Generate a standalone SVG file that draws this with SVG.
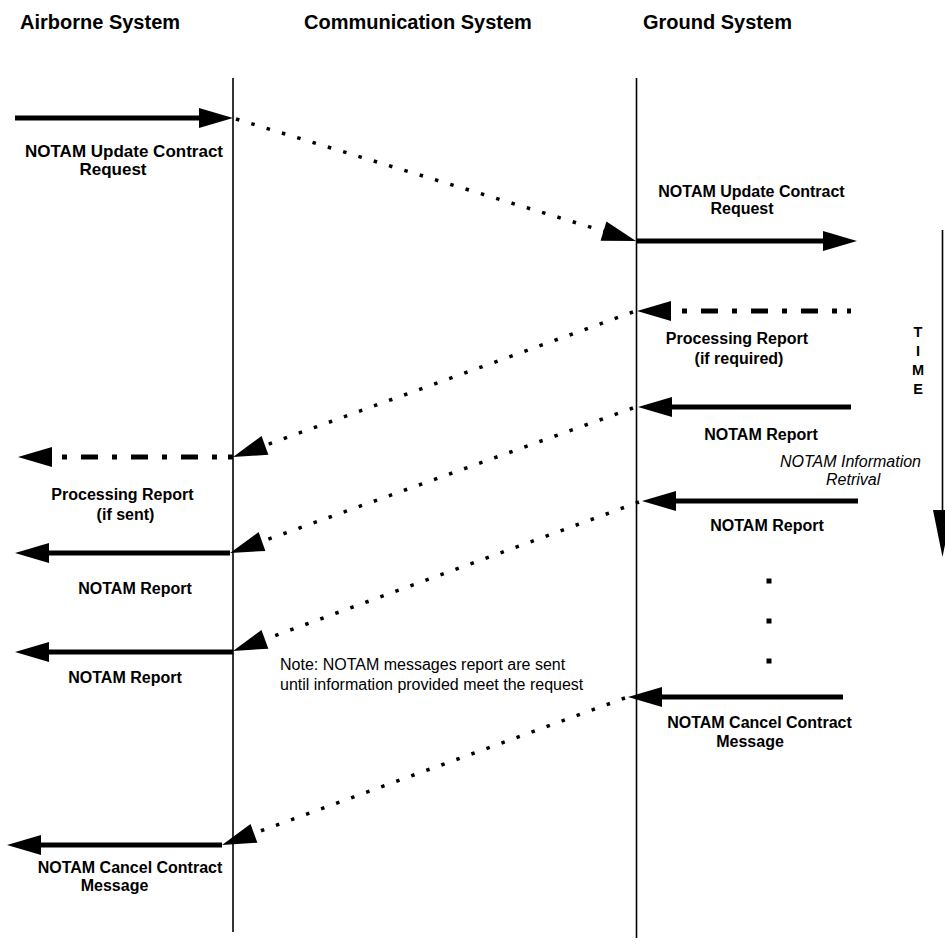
<svg xmlns="http://www.w3.org/2000/svg" xmlns:xlink="http://www.w3.org/1999/xlink" width="945" height="944" viewBox="0 0 945 944">
<style>
  text { font-family: "Liberation Sans", Arial, sans-serif; fill: #000; }
  .hdr { font-size: 20px; font-weight: bold; }
  .lbl { font-size: 16px; font-weight: bold; text-anchor: middle; }
  .tm { font-size: 14.5px; font-weight: bold; text-anchor: middle; }
  .it { font-size: 16px; font-style: italic; }
  .note { font-size: 16px; }
  .life { stroke: #000; stroke-width: 1.6; fill: none; }
  .solid { stroke: #000; stroke-width: 5; fill: none; }
  .dotted { stroke: #000; stroke-width: 3.5; stroke-dasharray: 3.5 12.5; fill: none; }
  .dashdot { stroke: #000; stroke-width: 5; stroke-dasharray: 5 14 17 14; fill: none; }
</style>
<defs>
  <polygon id="head" points="0,0 -34,-10 -34,10" fill="#000"/>
</defs>
<rect width="945" height="944" fill="#fff"/>

<g id="headers">
  <text class="hdr" x="20" y="29">Airborne System</text>
  <text class="hdr" x="304" y="29">Communication System</text>
  <text class="hdr" x="643" y="29">Ground System</text>
</g>

<g id="lifelines">
  <line class="life" x1="233" y1="78" x2="233" y2="932"/>
  <line class="life" x1="636.5" y1="78" x2="636.5" y2="938"/>
</g>

<g id="time">
  <line class="life" x1="942.5" y1="230" x2="942.5" y2="515"/>
  <polygon points="933,510 952,510 942.5,557" fill="#000"/>
  <text class="tm" x="918" y="337">T</text>
  <text class="tm" x="918" y="356">I</text>
  <text class="tm" x="918" y="375">M</text>
  <text class="tm" x="918" y="394">E</text>
</g>

<g id="connectors">
  <path class="solid" d="M15,118 H213"/>
  <use xlink:href="#head" transform="translate(233,118)"/>
  <path class="dotted" d="M236,119 L612,233.7"/>
  <use xlink:href="#head" transform="translate(636,241) rotate(16.97)"/>
  <path class="solid" d="M636,241 H837"/>
  <use xlink:href="#head" transform="translate(857,241)"/>
  <path class="dashdot" d="M837,311 H679"/>
  <path class="solid" d="M847,311 H851"/>
  <use xlink:href="#head" transform="translate(637,311) rotate(180)"/>
  <path class="dotted" d="M633,312 L256.5,448.5"/>
  <use xlink:href="#head" transform="translate(233,457) rotate(160.09)"/>
  <path class="solid" d="M851,407 H658"/>
  <use xlink:href="#head" transform="translate(638,407) rotate(180)"/>
  <path class="dotted" d="M633,408 L253.5,544.5"/>
  <use xlink:href="#head" transform="translate(230,553) rotate(160.22)"/>
  <path class="solid" d="M858,501 H662"/>
  <use xlink:href="#head" transform="translate(642,501) rotate(180)"/>
  <path class="dotted" d="M639,502 L256.5,642.4"/>
  <use xlink:href="#head" transform="translate(233,651) rotate(159.86)"/>
  <path class="solid" d="M843,697 H648"/>
  <use xlink:href="#head" transform="translate(628,697) rotate(180)"/>
  <path class="dotted" d="M625,698 L245.5,836.4"/>
  <use xlink:href="#head" transform="translate(222,845) rotate(159.97)"/>
  <path class="dashdot" d="M62,457 H217"/>
  <path class="solid" d="M228,457 H233"/>
  <use xlink:href="#head" transform="translate(18,457) rotate(180)"/>
  <path class="solid" d="M230,553 H35"/>
  <use xlink:href="#head" transform="translate(15,553) rotate(180)"/>
  <path class="solid" d="M233,652 H35"/>
  <use xlink:href="#head" transform="translate(15,652) rotate(180)"/>
  <path class="solid" d="M222,845 H27"/>
  <use xlink:href="#head" transform="translate(7,845) rotate(180)"/>
  <rect x="766.5" y="578.5" width="5" height="5" fill="#000"/>
  <rect x="766.5" y="618.5" width="5" height="5" fill="#000"/>
  <rect x="766.5" y="658.5" width="5" height="5" fill="#000"/>
</g>

<g id="label-update-air">
  <text class="lbl" x="124" y="157" style="font-size:17px">NOTAM Update Contract</text>
  <text class="lbl" x="113" y="175" style="font-size:17px">Request</text>
</g>
<g id="label-update-ground">
  <text class="lbl" x="751.5" y="197">NOTAM Update Contract</text>
  <text class="lbl" x="742" y="214">Request</text>
</g>
<g id="label-processing-ground">
  <text class="lbl" x="737" y="344">Processing Report</text>
  <text class="lbl" x="739" y="364">(if required)</text>
</g>
<g id="label-report-ground-1">
  <text class="lbl" x="761" y="440">NOTAM Report</text>
</g>
<g id="label-retrieval">
  <text class="it" x="921" y="467" text-anchor="end">NOTAM Information</text>
  <text class="it" x="826" y="485">Retrival</text>
</g>
<g id="label-report-ground-2">
  <text class="lbl" x="767" y="531">NOTAM Report</text>
</g>
<g id="label-cancel-ground">
  <text class="lbl" x="759.5" y="728">NOTAM Cancel Contract</text>
  <text class="lbl" x="750" y="747">Message</text>
</g>
<g id="label-processing-air">
  <text class="lbl" x="122.5" y="500">Processing Report</text>
  <text class="lbl" x="125.5" y="520">(if sent)</text>
</g>
<g id="label-report-air-1">
  <text class="lbl" x="135" y="594">NOTAM Report</text>
</g>
<g id="label-report-air-2">
  <text class="lbl" x="125" y="683">NOTAM Report</text>
</g>
<g id="label-cancel-air">
  <text class="lbl" x="130" y="873">NOTAM Cancel Contract</text>
  <text class="lbl" x="114.5" y="891">Message</text>
</g>
<g id="note">
  <text class="note" x="280" y="670">Note: NOTAM messages report are sent</text>
  <text class="note" x="280" y="690">until information provided meet the request</text>
</g>
</svg>
